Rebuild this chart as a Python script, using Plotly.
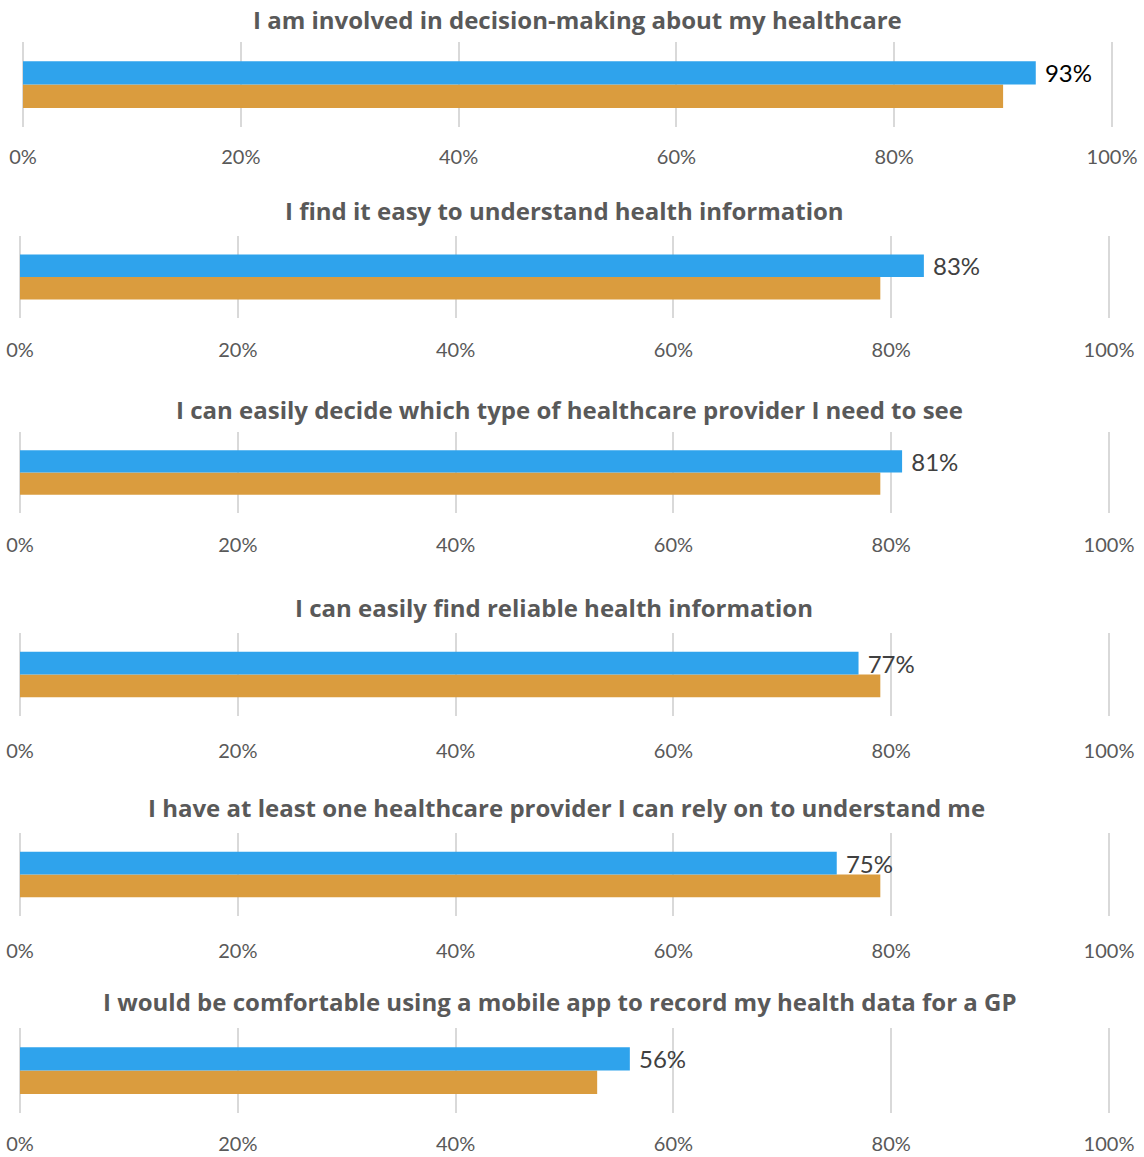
import plotly.graph_objects as go

# Survey statements and the share agreeing, per group (percent)
statements = [
    "I am involved in decision-making about my healthcare",
    "I find it easy to understand health information",
    "I can easily decide which type of healthcare provider I need to see",
    "I can easily find reliable health information",
    "I have at least one healthcare provider I can rely on to understand me",
    "I would be comfortable using a mobile app to record my health data for a GP",
]
blue_values = [93, 83, 81, 77, 75, 56]
orange_values = [90, 79, 79, 79, 79, 53]
tick_values = [0, 20, 40, 60, 80, 100]
tick_labels = ["0%", "20%", "40%", "60%", "80%", "100%"]

W, H = 1144, 1157
BLUE = "#2FA3EC"
ORANGE = "#DA9C3E"
GRID = "#D9D9D9"
FONT = "Lato, 'Open Sans', sans-serif"
TITLE_FONT = "'Open Sans', Lato, sans-serif"
PAD = 0.3  # small padding so the 0% and 100% gridlines are drawn

# panel geometry in pixels:
# plot top, plot bottom, x of 0%, x of 100%, title y, title x, tick label gap
panels = [
    (42, 127, 23, 1112, 20, 577, 12),
    (236, 318, 20, 1109, 210, 564, 14),
    (432, 513, 20, 1109, 410, 569, 14),
    (633, 716, 20, 1109, 607, 554, 17),
    (833, 916, 20, 1109, 807, 566, 17),
    (1028, 1113, 20, 1109, 1001, 560, 13),
]
label_colors = ["#000000", "#404040", "#404040", "#404040", "#404040", "#404040"]

fig = go.Figure()
layout = dict(
    width=W, height=H,
    margin=dict(l=0, r=0, t=0, b=0, autoexpand=False),
    paper_bgcolor="white", plot_bgcolor="white",
    barmode="group", bargap=0.45, bargroupgap=0,
    showlegend=False,
    annotations=[],
)

for i, (text, bv, ov) in enumerate(zip(statements, blue_values, orange_values)):
    n = "" if i == 0 else str(i + 1)
    top, bot, x0, x100, ty, tx, tgap = panels[i]
    px_per_unit = (x100 - x0) / 100
    xl = x0 - PAD * px_per_unit
    xr = x100 + PAD * px_per_unit
    xa, ya = "x" + n, "y" + n
    fig.add_trace(go.Bar(
        x=[ov], y=[0], orientation="h", marker=dict(color=ORANGE, line=dict(width=0)),
        xaxis=xa, yaxis=ya, hoverinfo="skip",
    ))
    fig.add_trace(go.Bar(
        x=[bv], y=[0], orientation="h", marker=dict(color=BLUE, line=dict(width=0)),
        text=[f" {bv}%"], textposition="outside", cliponaxis=False,
        constraintext="none",
        textfont=dict(family=FONT, size=24, color=label_colors[i]),
        xaxis=xa, yaxis=ya, hoverinfo="skip",
    ))
    layout["xaxis" + n] = dict(
        domain=[xl / W, xr / W], anchor=ya, range=[-PAD, 100 + PAD],
        tickvals=tick_values, ticktext=tick_labels,
        showgrid=True, gridcolor=GRID, gridwidth=2,
        zeroline=False, showline=False, automargin=False,
        ticks="outside", ticklen=tgap, tickcolor="rgba(0,0,0,0)",
        tickfont=dict(family=FONT, size=20, color="#595959"),
        fixedrange=True,
    )
    layout["yaxis" + n] = dict(
        domain=[1 - bot / H, 1 - top / H], anchor=xa, range=[-0.5, 0.5],
        showticklabels=False, showgrid=False, zeroline=False, showline=False,
        automargin=False, fixedrange=True,
    )
    layout["annotations"].append(dict(
        text=f"<b>{text}</b>", xref="paper", yref="paper",
        x=tx / W, y=1 - ty / H, xanchor="center", yanchor="middle",
        showarrow=False, font=dict(family=TITLE_FONT, size=24, color="#595959"),
    ))

fig.update_layout(**layout)
fig.write_html("out.html")
